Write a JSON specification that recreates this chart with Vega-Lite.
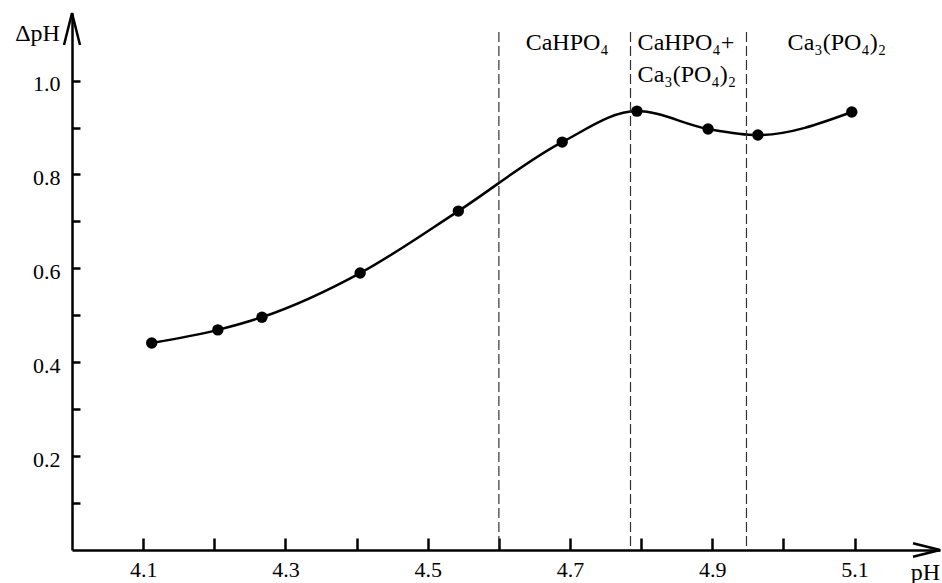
{
  "$schema": "https://vega.github.io/schema/vega-lite/v6.json",
  "width": 868,
  "height": 537,
  "autosize": {"type": "none"},
  "padding": {"left": 72, "top": 13, "right": 2, "bottom": 33},
  "background": "white",
  "config": {"view": {"stroke": null}, "font": "Liberation Serif"},
  "datasets": {
    "pts": [
      {"pH": 4.112, "dpH": 0.441},
      {"pH": 4.205, "dpH": 0.469},
      {"pH": 4.267, "dpH": 0.496},
      {"pH": 4.405, "dpH": 0.590},
      {"pH": 4.543, "dpH": 0.722},
      {"pH": 4.689, "dpH": 0.869},
      {"pH": 4.794, "dpH": 0.935},
      {"pH": 4.894, "dpH": 0.897},
      {"pH": 4.964, "dpH": 0.884},
      {"pH": 5.096, "dpH": 0.933}
    ],
    "bounds": [
      {"pH": 4.6, "top": 1.1035, "bottom": 0},
      {"pH": 4.785, "top": 1.1035, "bottom": 0},
      {"pH": 4.948, "top": 1.1035, "bottom": 0}
    ],
    "labelsCenter": [
      {"pH": 4.696, "dpH": 1.065, "label": "CaHPO₄"},
      {"pH": 5.075, "dpH": 1.065, "label": "Ca₃(PO₄)₂"}
    ],
    "labelsLeft": [
      {"pH": 4.795, "dpH": 1.065, "label": "CaHPO₄+"},
      {"pH": 4.795, "dpH": 0.998, "label": "Ca₃(PO₄)₂"}
    ],
    "yArrow": [{"pH": 4.0, "dpH": 1.144}],
    "xArrow": [{"pH": 5.22, "dpH": 0}]
  },
  "layer": [
    {
      "data": {"name": "pts"},
      "mark": {"type": "line", "interpolate": "monotone", "color": "black", "strokeWidth": 2.5},
      "encoding": {
        "x": {
          "field": "pH", "type": "quantitative",
          "scale": {"domain": [4.0, 5.22], "nice": false, "zero": false},
          "axis": {
            "values": [4.1, 4.2, 4.3, 4.4, 4.5, 4.6, 4.7, 4.8, 4.9, 5.0, 5.1],
            "labelExpr": "indexof(['4.1','4.3','4.5','4.7','4.9','5.1'], format(datum.value, '.1f')) >= 0 ? format(datum.value, '.1f') : ''",
            "grid": false,
            "domainColor": "black", "domainWidth": 2.5,
            "tickColor": "black", "tickWidth": 2.5, "tickSize": -12,
            "labelPadding": 21, "labelFontSize": 22, "labelColor": "black", "labelFlush": false,
            "title": "pH", "titleFontSize": 24, "titleFontWeight": "normal", "titleColor": "black",
            "titleX": 853, "titleY": 29, "titleBaseline": "alphabetic", "titleAlign": "center"
          }
        },
        "y": {
          "field": "dpH", "type": "quantitative",
          "scale": {"domain": [0, 1.144], "nice": false},
          "axis": {
            "values": [0.1, 0.2, 0.3, 0.4, 0.5, 0.6, 0.7, 0.8, 0.9, 1.0],
            "labelExpr": "indexof(['0.2','0.4','0.6','0.8','1.0'], format(datum.value, '.1f')) >= 0 ? format(datum.value, '.1f') : ''",
            "grid": false,
            "domainColor": "black", "domainWidth": 2.5,
            "tickColor": "black", "tickWidth": 2.5, "tickSize": -8,
            "labelPadding": 20, "labelFontSize": 22, "labelColor": "black", "labelOffset": 3,
            "title": "ΔpH", "titleFontSize": 24, "titleFontWeight": "normal", "titleColor": "black",
            "titleAngle": 0, "titleX": -35, "titleY": 20, "titleBaseline": "middle", "titleAlign": "center"
          }
        }
      }
    },
    {
      "data": {"name": "pts"},
      "mark": {"type": "point", "filled": true, "color": "black", "size": 130, "opacity": 1},
      "encoding": {
        "x": {"field": "pH", "type": "quantitative"},
        "y": {"field": "dpH", "type": "quantitative"}
      }
    },
    {
      "data": {"name": "bounds"},
      "mark": {"type": "rule", "color": "#333333", "strokeWidth": 1.2, "strokeDash": [10, 4]},
      "encoding": {
        "x": {"field": "pH", "type": "quantitative"},
        "y": {"field": "top", "type": "quantitative"},
        "y2": {"field": "bottom"}
      }
    },
    {
      "data": {"name": "labelsCenter"},
      "mark": {"type": "text", "align": "center", "baseline": "alphabetic", "fontSize": 24, "color": "black"},
      "encoding": {
        "x": {"field": "pH", "type": "quantitative"},
        "y": {"field": "dpH", "type": "quantitative"},
        "text": {"field": "label"}
      }
    },
    {
      "data": {"name": "labelsLeft"},
      "mark": {"type": "text", "align": "left", "baseline": "alphabetic", "fontSize": 24, "color": "black"},
      "encoding": {
        "x": {"field": "pH", "type": "quantitative"},
        "y": {"field": "dpH", "type": "quantitative"},
        "text": {"field": "label"}
      }
    },
    {
      "data": {"name": "yArrow"},
      "mark": {"type": "point", "shape": "M-0.5,2L0,0L0.5,2", "filled": false, "stroke": "black", "strokeWidth": 2.5, "size": 1024, "opacity": 1, "clip": false},
      "encoding": {
        "x": {"field": "pH", "type": "quantitative"},
        "y": {"field": "dpH", "type": "quantitative"}
      }
    },
    {
      "data": {"name": "xArrow"},
      "mark": {"type": "point", "shape": "M-2,-0.5L0,0L-2,0.5", "filled": false, "stroke": "black", "strokeWidth": 2.5, "size": 729, "opacity": 1, "clip": false},
      "encoding": {
        "x": {"field": "pH", "type": "quantitative"},
        "y": {"field": "dpH", "type": "quantitative"}
      }
    }
  ]
}
